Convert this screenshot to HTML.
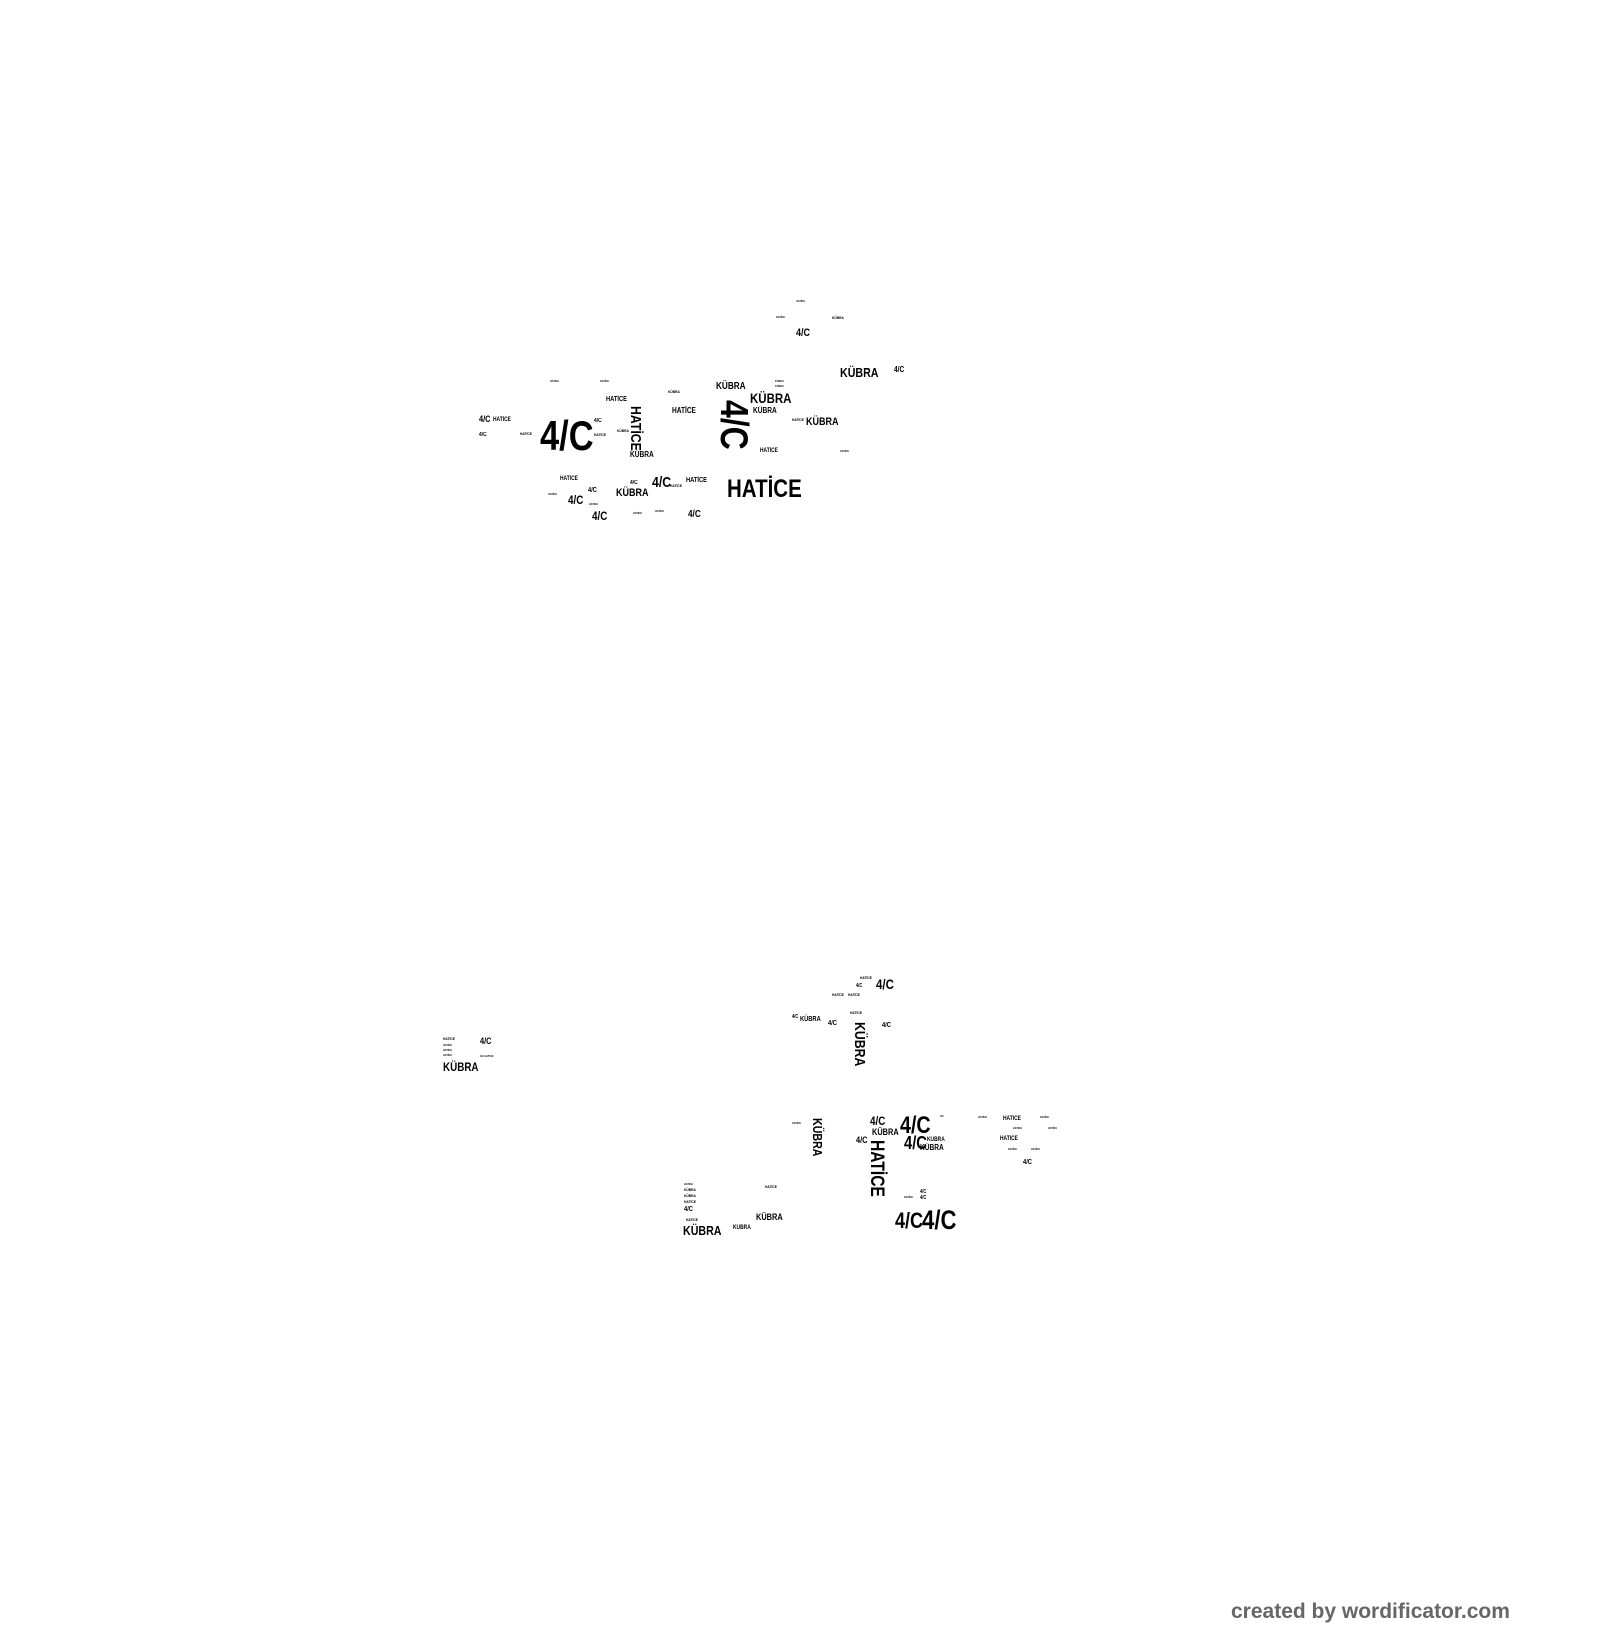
<!DOCTYPE html>
<html><head><meta charset="utf-8"><style>
html,body{margin:0;padding:0;background:#fff;}
body{width:1600px;height:1640px;position:relative;overflow:hidden;font-family:"Liberation Sans",sans-serif;font-weight:bold;color:#000;}
.w{position:absolute;line-height:1;white-space:nowrap;transform-origin:0 0;transform:scaleX(0.82);}
.r{position:absolute;line-height:1;white-space:nowrap;transform-origin:0 0;transform:rotate(90deg) scaleX(0.82);}
.c{position:absolute;left:1231px;top:1601px;font-size:21px;color:#666;line-height:1;white-space:nowrap;transform-origin:0 0;transform:scaleX(1.0);}
</style></head><body>
<!-- top cluster -->
<div class="w" style="left:540px;top:415px;font-size:42px">4/C</div>
<div class="r" style="left:753px;top:400px;font-size:39px">4/C</div>
<div class="r" style="left:643px;top:406px;font-size:15px">HATİCE</div>
<div class="w" style="left:727px;top:477px;font-size:25px">HATİCE</div>
<div class="w" style="left:750px;top:391px;font-size:14px">KÜBRA</div>
<div class="w" style="left:840px;top:366px;font-size:13px">KÜBRA</div>
<div class="w" style="left:716px;top:382px;font-size:10px">KÜBRA</div>
<div class="w" style="left:753px;top:407px;font-size:8px">KÜBRA</div>
<div class="w" style="left:806px;top:417px;font-size:11px">KÜBRA</div>
<div class="w" style="left:796px;top:328px;font-size:11px">4/C</div>
<div class="w" style="left:894px;top:366px;font-size:8px">4/C</div>
<div class="w" style="left:479px;top:415px;font-size:9px">4/C</div>
<div class="w" style="left:493px;top:417px;font-size:6px">HATİCE</div>
<div class="w" style="left:479px;top:432px;font-size:6px">4/C</div>
<div class="w" style="left:606px;top:396px;font-size:7px">HATİCE</div>
<div class="w" style="left:672px;top:407px;font-size:8px">HATİCE</div>
<div class="w" style="left:630px;top:451px;font-size:8px">KÜBRA</div>
<div class="w" style="left:760px;top:448px;font-size:6px">HATİCE</div>
<div class="w" style="left:652px;top:475px;font-size:15px">4/C</div>
<div class="w" style="left:686px;top:477px;font-size:7px">HATİCE</div>
<div class="w" style="left:616px;top:488px;font-size:11px">KÜBRA</div>
<div class="w" style="left:630px;top:480px;font-size:6px">4/C</div>
<div class="w" style="left:560px;top:476px;font-size:6px">HATİCE</div>
<div class="w" style="left:588px;top:487px;font-size:7px">4/C</div>
<div class="w" style="left:568px;top:494px;font-size:12px">4/C</div>
<div class="w" style="left:592px;top:510px;font-size:12px">4/C</div>
<div class="w" style="left:688px;top:510px;font-size:10px">4/C</div>
<div class="w" style="left:594px;top:418px;font-size:6px">4/C</div>
<div class="w" style="left:594px;top:433px;font-size:4px">HATİCE</div>
<div class="w" style="left:796px;top:300px;font-size:3px">HATİCE</div>
<div class="w" style="left:776px;top:316px;font-size:3px">HATİCE</div>
<div class="w" style="left:832px;top:316px;font-size:4px">KÜBRA</div>
<div class="w" style="left:550px;top:380px;font-size:3px">HATİCE</div>
<div class="w" style="left:600px;top:380px;font-size:3px">HATİCE</div>
<div class="w" style="left:775px;top:380px;font-size:3px">KÜBRA</div>
<div class="w" style="left:775px;top:385px;font-size:3px">KÜBRA</div>
<div class="w" style="left:840px;top:450px;font-size:3px">HATİCE</div>
<div class="w" style="left:520px;top:432px;font-size:4px">HATİCE</div>
<div class="w" style="left:617px;top:429px;font-size:4px">KÜBRA</div>
<div class="w" style="left:668px;top:390px;font-size:4px">KÜBRA</div>
<div class="w" style="left:792px;top:418px;font-size:4px">HATİCE</div>
<div class="w" style="left:670px;top:484px;font-size:4px">HATİCE</div>
<div class="w" style="left:548px;top:493px;font-size:3px">HATİCE</div>
<div class="w" style="left:589px;top:503px;font-size:3px">HATİCE</div>
<div class="w" style="left:633px;top:512px;font-size:3px">HATİCE</div>
<div class="w" style="left:655px;top:510px;font-size:3px">HATİCE</div>
<!-- bottom cluster -->
<div class="w" style="left:876px;top:977px;font-size:14px">4/C</div>
<div class="w" style="left:860px;top:976px;font-size:4px">HATİCE</div>
<div class="w" style="left:856px;top:984px;font-size:5px">4/C</div>
<div class="w" style="left:832px;top:993px;font-size:4px">HATİCE</div>
<div class="w" style="left:848px;top:993px;font-size:4px">HATİCE</div>
<div class="w" style="left:850px;top:1011px;font-size:4px">HATİCE</div>
<div class="w" style="left:792px;top:1015px;font-size:5px">4/C</div>
<div class="w" style="left:800px;top:1016px;font-size:7px">KÜBRA</div>
<div class="w" style="left:828px;top:1020px;font-size:7px">4/C</div>
<div class="r" style="left:867px;top:1022px;font-size:15px">KÜBRA</div>
<div class="w" style="left:882px;top:1022px;font-size:7px">4/C</div>
<div class="w" style="left:443px;top:1037px;font-size:4px">HATİCE</div>
<div class="w" style="left:443px;top:1044px;font-size:3px">HATİCE</div>
<div class="w" style="left:443px;top:1049px;font-size:3px">HATİCE</div>
<div class="w" style="left:443px;top:1054px;font-size:3px">HATİCE</div>
<div class="w" style="left:480px;top:1037px;font-size:9px">4/C</div>
<div class="w" style="left:480px;top:1055px;font-size:3px">4/C HATİCE</div>
<div class="w" style="left:443px;top:1061px;font-size:12px">KÜBRA</div>
<div class="w" style="left:792px;top:1122px;font-size:3px">HATİCE</div>
<div class="r" style="left:824px;top:1118px;font-size:13px">KÜBRA</div>
<div class="w" style="left:870px;top:1115px;font-size:12px">4/C</div>
<div class="w" style="left:872px;top:1128px;font-size:9px">KÜBRA</div>
<div class="w" style="left:900px;top:1114px;font-size:24px">4/C</div>
<div class="w" style="left:856px;top:1136px;font-size:9px">4/C</div>
<div class="r" style="left:886px;top:1140px;font-size:19px">HATİCE</div>
<div class="w" style="left:904px;top:1134px;font-size:18px">4/C</div>
<div class="w" style="left:927px;top:1137px;font-size:6px">KÜBRA</div>
<div class="w" style="left:920px;top:1144px;font-size:8px">KÜBRA</div>
<div class="w" style="left:940px;top:1115px;font-size:3px">4/C</div>
<div class="w" style="left:978px;top:1116px;font-size:3px">HATİCE</div>
<div class="w" style="left:1003px;top:1116px;font-size:6px">HATİCE</div>
<div class="w" style="left:1040px;top:1116px;font-size:3px">HATİCE</div>
<div class="w" style="left:1013px;top:1127px;font-size:3px">HATİCE</div>
<div class="w" style="left:1048px;top:1127px;font-size:3px">HATİCE</div>
<div class="w" style="left:1000px;top:1136px;font-size:6px">HATİCE</div>
<div class="w" style="left:1008px;top:1148px;font-size:3px">HATİCE</div>
<div class="w" style="left:1031px;top:1148px;font-size:3px">HATİCE</div>
<div class="w" style="left:1023px;top:1159px;font-size:7px">4/C</div>
<div class="w" style="left:920px;top:1190px;font-size:5px">4/C</div>
<div class="w" style="left:920px;top:1196px;font-size:5px">4/C</div>
<div class="w" style="left:904px;top:1196px;font-size:3px">HATİCE</div>
<div class="w" style="left:765px;top:1185px;font-size:4px">HATİCE</div>
<div class="w" style="left:684px;top:1183px;font-size:3px">HATİCE</div>
<div class="w" style="left:684px;top:1188px;font-size:4px">KÜBRA</div>
<div class="w" style="left:684px;top:1194px;font-size:4px">KÜBRA</div>
<div class="w" style="left:684px;top:1200px;font-size:4px">HATİCE</div>
<div class="w" style="left:684px;top:1206px;font-size:7px">4/C</div>
<div class="w" style="left:686px;top:1218px;font-size:4px">HATİCE</div>
<div class="w" style="left:683px;top:1224px;font-size:13px">KÜBRA</div>
<div class="w" style="left:756px;top:1213px;font-size:9px">KÜBRA</div>
<div class="w" style="left:733px;top:1225px;font-size:6px">KÜBRA</div>
<div class="w" style="left:895px;top:1210px;font-size:22px">4/C</div>
<div class="w" style="left:922px;top:1207px;font-size:27px">4/C</div>
<div class="c">created by wordificator.com</div>
</body></html>
